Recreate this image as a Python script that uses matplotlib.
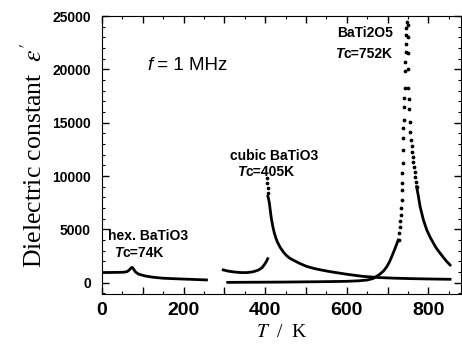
import matplotlib
matplotlib.use("Agg")
import matplotlib.pyplot as plt
from matplotlib.ticker import MultipleLocator, FuncFormatter

plt.rcParams['mathtext.fontset'] = 'stix'

# hexagonal BaTiO3
hex_T = [0, 20, 40, 55, 62, 67, 71, 74, 77, 82, 90, 105, 120, 133, 150, 174, 200, 215, 235, 256]
hex_eps = [950, 960, 970, 990, 1050, 1200, 1380, 1440, 1300, 1000, 800, 640, 540, 480, 420, 380, 340, 320, 290, 260]

# cubic BaTiO3 below / above Tc
cub_lo_T = [297, 310, 325, 340, 355, 370, 383, 392, 399, 403, 406]
cub_lo_eps = [1200, 1080, 1000, 950, 950, 1020, 1180, 1400, 1750, 2000, 2250]
cub_pk_T = [404.8, 405.2, 405.6, 406.0]
cub_pk_eps = [9800, 9350, 8900, 8450]
cub_hi_T = [406.5, 408, 410, 412, 414, 416, 419, 422, 426, 430, 436, 444, 452, 460, 472,
            485, 500, 518, 540, 560, 600, 640, 680, 720, 760, 800, 853]
cub_hi_eps = [8100, 7900, 7500, 6900, 6300, 5800, 5200, 4700, 4200, 3800, 3350, 2900, 2550, 2300, 2050,
              1800, 1550, 1350, 1170, 1030, 790, 590, 480, 420, 380, 350, 320]

# BaTi2O5
bt_lo_T = [308, 350, 400, 450, 500, 550, 600, 630, 650, 665, 681, 690, 698, 705, 710, 716, 722, 726]
bt_lo_eps = [30, 40, 50, 60, 80, 100, 130, 180, 250, 400, 800, 1100, 1500, 2000, 2440, 3000, 3600, 4000]
bt_up_T = [727, 728.5, 730, 731, 732, 733, 734, 735, 735.7, 736.3, 737, 737.6, 738.2, 738.8, 739.4,
           740, 740.8, 741.6, 742.4, 743.2, 744, 744.8, 745.5, 746.2, 747]
bt_up_eps = [4000, 4660, 5220, 5790, 6350, 7000, 7760, 8700, 9350, 10290, 11230, 12450, 13570, 14500, 15260,
             16500, 17300, 18240, 19800, 20700, 21600, 22400, 23200, 23900, 24450]
bt_dn_T = [749, 749.5, 750, 750.5, 751, 752, 753, 754, 756, 757.5, 759, 760, 761.7, 763, 765, 766, 767.4, 769, 771]
bt_dn_eps = [24200, 23000, 21500, 20000, 18240, 17200, 16300, 15100, 14160, 13390, 12820, 12290, 11820,
             11350, 10880, 10410, 9940, 9470, 9000]
bt_hi_T = [771, 775.5, 779.6, 787.7, 796, 805, 812, 820, 829, 837, 845, 853]
bt_hi_eps = [9000, 8070, 7130, 5880, 4940, 4200, 3720, 3200, 2750, 2350, 1980, 1660]

fig = plt.figure(figsize=(4.62, 3.45), dpi=100)
ax = fig.add_axes([0.2208, 0.1478, 0.7772, 0.8058])

lw = 2.0
ax.plot(hex_T, hex_eps, color='black', lw=lw)
ax.plot(cub_lo_T, cub_lo_eps, color='black', lw=lw)
ax.plot(cub_pk_T, cub_pk_eps, 'o', color='black', ms=1.6)
ax.plot(cub_hi_T, cub_hi_eps, color='black', lw=lw)
ax.plot(bt_lo_T, bt_lo_eps, color='black', lw=lw)
ax.plot(bt_up_T, bt_up_eps, 'o', color='black', ms=1.7)
ax.plot(bt_dn_T, bt_dn_eps, 'o', color='black', ms=1.7)
ax.plot(bt_hi_T, bt_hi_eps, color='black', lw=lw)

ax.set_xlim(0, 880)
ax.set_ylim(-1060, 25000)

ax.xaxis.set_major_locator(MultipleLocator(100))
ax.xaxis.set_minor_locator(MultipleLocator(50))
ax.xaxis.set_major_formatter(FuncFormatter(lambda v, p: '%d' % v if int(round(v)) % 200 == 0 else ''))
ax.yaxis.set_major_locator(MultipleLocator(5000))
ax.yaxis.set_minor_locator(MultipleLocator(1000))
ax.tick_params(which='both', direction='in', top=True, right=True)
ax.tick_params(which='major', length=5, width=1)
ax.tick_params(which='minor', length=2.5, width=0.8)
ax.tick_params(axis='x', labelsize=14, pad=6)
ax.tick_params(axis='y', labelsize=10, pad=8)
for lab in ax.get_xticklabels() + ax.get_yticklabels():
    lab.set_fontweight('bold')
    lab.set_fontfamily('Liberation Sans')

ax.set_ylabel("Dielectric constant  $\\varepsilon'$", family='Liberation Serif', fontsize=18.5, labelpad=4)
ax.set_xlabel("$T$  /  K", family='Liberation Serif', fontsize=14, labelpad=3)

tf = dict(family='Liberation Sans', fontweight='bold', fontsize=10)


def tc_label(x, y, rest):
    # italic "T" followed by the rest of the label
    t1 = ax.text(x, y, 'T', style='italic', **tf)
    ax.annotate(rest, xy=(1, 0), xycoords=t1, va='bottom', **tf)
    return t1


ax.text(15, 4000, 'hex. BaTiO3', **tf)
tc_label(30, 2450, 'c=74K')
ax.text(313, 11500, 'cubic BaTiO3', **tf)
tc_label(330, 10000, 'c=405K')
ax.text(713, 23000, 'BaTi2O5', ha='right', **tf)
tc_label(572, 21100, 'c=752K')

f1 = ax.text(110, 19950, 'f', style='italic', family='Liberation Sans', fontsize=13.5)
ax.annotate(' = 1 MHz', xy=(1, 0), xycoords=f1, va='bottom', family='Liberation Sans', fontsize=13.5)

fig.savefig('out.png', dpi=100)
